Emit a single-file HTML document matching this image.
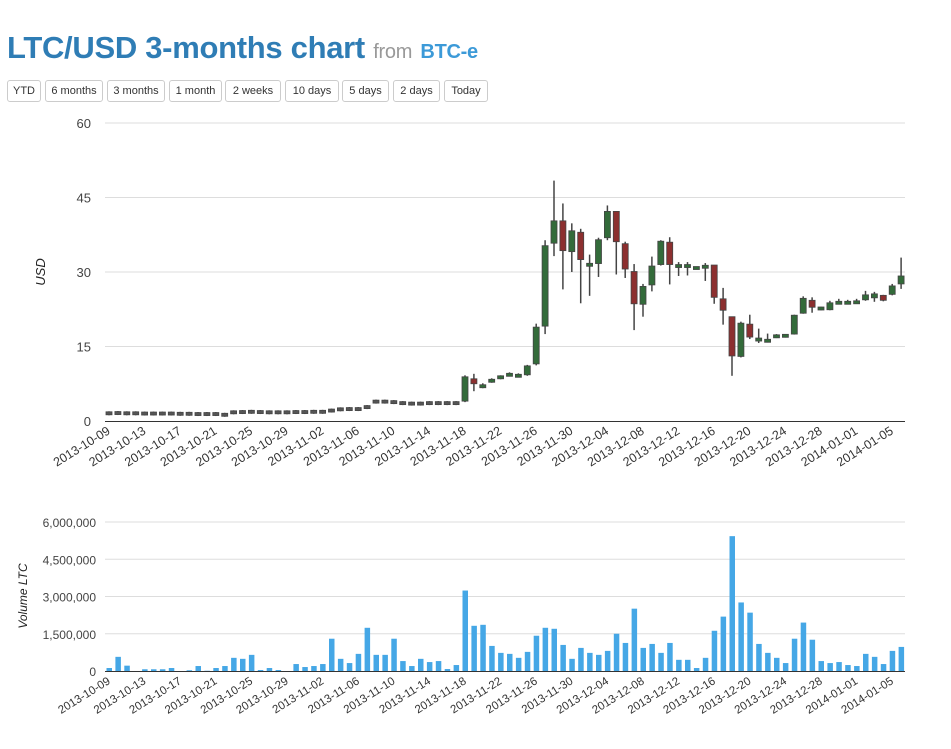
<!DOCTYPE html>
<html><head><meta charset="utf-8">
<style>
body{margin:0;background:#fff;width:951px;height:749px;overflow:hidden;font-family:"Liberation Sans",sans-serif;}
h1{position:absolute;left:7px;top:30px;margin:0;font-size:31px;font-weight:bold;color:#2f7db5;letter-spacing:-0.3px;white-space:nowrap}
h1 .f{font-size:20px;color:#999;font-weight:normal}
h1 .b{font-size:20px;color:#3c9ad8;font-weight:bold}
.btn{position:absolute;top:80px;height:20px;border:1px solid #ccc;border-radius:3px;font-size:11px;line-height:20px;text-align:center;color:#333;background:#fff}
svg{position:absolute;left:0;top:0}
</style></head><body>
<h1>LTC/USD 3-months chart <span class="f">from</span> <span class="b">BTC-e</span></h1>
<div class="btn" style="left:7px;width:32px">YTD</div>
<div class="btn" style="left:45px;width:56px">6 months</div>
<div class="btn" style="left:107px;width:56px">3 months</div>
<div class="btn" style="left:169px;width:51px">1 month</div>
<div class="btn" style="left:225px;width:54px">2 weeks</div>
<div class="btn" style="left:285px;width:52px">10 days</div>
<div class="btn" style="left:342px;width:45px">5 days</div>
<div class="btn" style="left:393px;width:45px">2 days</div>
<div class="btn" style="left:444px;width:42px">Today</div>
<svg id="s" width="951" height="749" xmlns="http://www.w3.org/2000/svg"></svg>
<script>
var vol=[120,570,215,0,70,70,70,120,0,30,200,10,120,200,530,490,650,40,120,40,0,280,160,200,280,1300,490,320,690,1740,650,650,1300,400,200,490,360,400,80,240,3240,1820,1860,1010,730,690,530,770,1420,1740,1700,1050,490,930,730,650,810,1500,1130,2510,930,1090,730,1130,450,450,120,530,1620,2190,5430,2760,2350,1090,730,530,320,1300,1950,1260,400,320,360,240,200,690,570,280,810,970];
var sm=[1.55,1.6,1.55,1.55,1.5,1.5,1.5,1.5,1.45,1.45,1.4,1.4,1.4,1.25,1.75,1.8,1.85,1.8,1.75,1.75,1.75,1.8,1.8,1.85,1.85,2.1,2.35,2.4,2.4,2.8,3.9,3.9,3.8,3.6,3.5,3.5,3.6,3.6,3.6,3.6];
var C=[];
sm.forEach(function(v){C.push([v-0.3,v+0.3,v+0.4,v-0.4])});
// o,c,h,l
C.push([4.0,8.9,9.2,3.8],[8.5,7.5,9.5,6],[6.8,7.2,7.6,6.6],[7.9,8.3,8.6,7.7],[8.6,9.0,9.2,8.4],[9.1,9.5,9.8,9.0],[8.9,9.3,9.6,8.8],
[9.3,11.1,11.3,9.1],[11.5,18.9,19.6,11.2],[19.1,35.3,36.4,17.5],[35.8,40.3,48.4,33.2],[40.3,34.3,43.8,26.5],[34.1,38.3,39.8,30],[38,32.5,38.7,23.7],[31.2,31.7,33.5,25.2],[31.7,36.5,36.9,29],[36.9,42.2,43.4,36.4],[42.2,36.1,42.2,29.5],[35.7,30.6,36.1,28.8],[30.1,23.6,31.6,18.3],[23.5,27.1,27.6,21],[27.4,31.2,33.1,26.1],[31.5,36.2,36.4,31.3],[36,31.5,37,27.5],[31.0,31.4,32,29.2],[31.0,31.4,32,29.3],[30.6,31.0,31.1,30.5],[30.8,31.3,31.8,28.2],[31.4,24.9,31.4,23.6],[24.6,22.3,26.8,19.4],[21,13.1,21,9.1],[13,19.7,20,12.8],[19.5,16.9,21.4,16.5],[16.1,16.7,18.6,15.7],[15.9,16.4,17.6,15.8],[16.8,17.3,17.5,16.7],[16.9,17.4,17.5,16.8],[17.5,21.3,21.4,17.4],[21.7,24.7,25.1,21.6],[24.3,22.9,24.9,21.8],[22.4,22.9,23,22.3],[22.4,23.8,24.2,22.3],[23.6,24.0,24.6,23.5],[23.6,24.0,24.4,23.5],[23.7,24.1,24.6,23.6],[24.4,25.4,26.2,24.2],[24.8,25.6,26,24],[25.3,24.3,25.4,24.1],[25.5,27.2,27.6,25.3],[27.6,29.2,32.9,26.6]);
var s='',X0=109,DX=8.9,L=105,R=905;
function py(v){return 421-v*298/60}
function vy(v){return 671-v*149/6000}
// grids
[0,15,30,45,60].forEach(function(v){var y=py(v);if(v)s+='<line x1="'+L+'" x2="'+R+'" y1="'+y+'" y2="'+y+'" stroke="#ddd"/>';s+='<text x="91" y="'+(y+5)+'" text-anchor="end" font-size="13" fill="#444">'+v+'</text>'});
['0','1,500,000','3,000,000','4,500,000','6,000,000'].forEach(function(t,i){var y=vy(i*1500);if(i)s+='<line x1="'+L+'" x2="'+R+'" y1="'+y+'" y2="'+y+'" stroke="#ddd"/>';s+='<text x="96" y="'+(y+5)+'" text-anchor="end" font-size="12" fill="#444">'+t+'</text>'});
s+='<text transform="translate(45,272) rotate(-90)" text-anchor="middle" font-size="13" font-style="italic" fill="#222">USD</text>';
s+='<text transform="translate(27,596) rotate(-90)" text-anchor="middle" font-size="12" font-style="italic" fill="#222">Volume LTC</text>';
// candles
C.forEach(function(c,i){var x=X0+i*DX,o=c[0],cl=c[1];var small=i<40;var col=small?'#555':(cl>=o?'#336b3a':'#8c2f2f');
s+='<line x1="'+x+'" x2="'+x+'" y1="'+py(c[2])+'" y2="'+py(c[3])+'" stroke="#444" stroke-width="1.5"/>';
var y1=py(Math.max(o,cl)),y2=py(Math.min(o,cl));if(y2-y1<3){var m=(y1+y2)/2;y1=m-1.5;y2=m+1.5}
s+='<rect x="'+(x-3)+'" y="'+y1+'" width="6" height="'+(y2-y1)+'" fill="'+col+'" stroke="#444" stroke-width="0.8"/>'});
vol.forEach(function(v,i){var x=X0+i*DX;if(v>0)s+='<rect x="'+(x-2.5)+'" y="'+vy(v)+'" width="5.5" height="'+(671-vy(v))+'" fill="#45a7e6"/>'});
s+='<line x1="'+L+'" x2="'+R+'" y1="421.5" y2="421.5" stroke="#333"/>';
s+='<line x1="'+L+'" x2="'+R+'" y1="671.5" y2="671.5" stroke="#333"/>';
var d=new Date(Date.UTC(2013,9,9));
for(var i=0;i<=88;i+=4){var dd=new Date(d.getTime()+i*864e5);var t=dd.toISOString().slice(0,10);var x=X0+i*DX+2;
s+='<text transform="translate('+x+',433) rotate(-32)" text-anchor="end" font-size="12.5" fill="#333">'+t+'</text>';
s+='<text transform="translate('+x+',683) rotate(-32)" text-anchor="end" font-size="11.5" fill="#333">'+t+'</text>';}
document.getElementById('s').innerHTML=s;
</script>
</body></html>
